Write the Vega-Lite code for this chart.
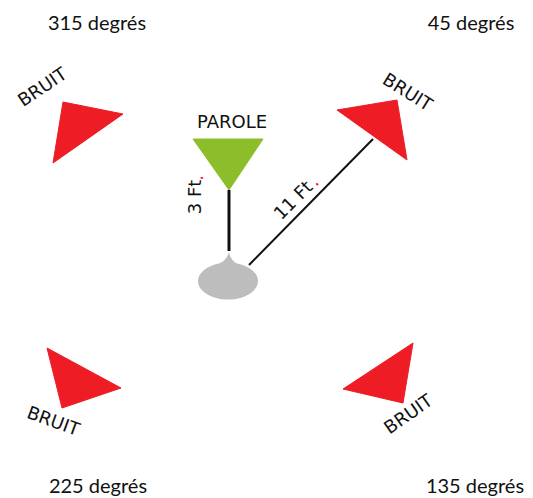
{
  "$schema": "https://vega.github.io/schema/vega-lite/v6.json",
  "width": 533,
  "height": 498,
  "padding": 0,
  "autosize": {"type": "none"},
  "background": "white",
  "config": {"view": {"stroke": null}},
  "datasets": {
    "triangles": [
      {"id": "nw", "k": 1, "x": 63, "y": 102, "c": "bruit"},
      {"id": "nw", "k": 2, "x": 123, "y": 114, "c": "bruit"},
      {"id": "nw", "k": 3, "x": 53, "y": 163, "c": "bruit"},
      {"id": "ne", "k": 1, "x": 337, "y": 110, "c": "bruit"},
      {"id": "ne", "k": 2, "x": 397, "y": 100, "c": "bruit"},
      {"id": "ne", "k": 3, "x": 407, "y": 160, "c": "bruit"},
      {"id": "sw", "k": 1, "x": 47, "y": 348, "c": "bruit"},
      {"id": "sw", "k": 2, "x": 121, "y": 388, "c": "bruit"},
      {"id": "sw", "k": 3, "x": 62, "y": 408, "c": "bruit"},
      {"id": "se", "k": 1, "x": 413, "y": 343, "c": "bruit"},
      {"id": "se", "k": 2, "x": 343, "y": 389, "c": "bruit"},
      {"id": "se", "k": 3, "x": 403, "y": 403, "c": "bruit"},
      {"id": "pa", "k": 1, "x": 193, "y": 139, "c": "parole"},
      {"id": "pa", "k": 2, "x": 263, "y": 139, "c": "parole"},
      {"id": "pa", "k": 3, "x": 229, "y": 190, "c": "parole"}
    ],
    "lines": [
      {"x": 229, "y": 190, "x2": 229, "y2": 251, "w": 3},
      {"x": 249, "y": 265, "x2": 373, "y2": 139, "w": 2}
    ],
    "head": [{"x": 228, "y": 276}],
    "labels": [
      {"t": "315 degrés", "x": 97, "y": 24, "a": 0, "f": "deg"},
      {"t": "45 degrés", "x": 471, "y": 24, "a": 0, "f": "deg"},
      {"t": "225 degrés", "x": 98, "y": 487, "a": 0, "f": "deg"},
      {"t": "135 degrés", "x": 475, "y": 487, "a": 0, "f": "deg"},
      {"t": "BRUIT", "x": 43, "y": 88, "a": -34, "f": "lab"},
      {"t": "BRUIT", "x": 407, "y": 93, "a": 32, "f": "lab"},
      {"t": "BRUIT", "x": 53, "y": 422, "a": 20, "f": "lab"},
      {"t": "BRUIT", "x": 409, "y": 415, "a": -35, "f": "lab"},
      {"t": "PAROLE", "x": 232, "y": 123, "a": 0, "f": "lab"},
      {"t": "3 Ft", "x": 196, "y": 197, "a": -90, "f": "lab"},
      {"t": "11 Ft", "x": 294, "y": 201, "a": -45, "f": "lab"}
    ],
    "dots": [
      {"t": ".", "x": 203, "y": 178, "a": -90},
      {"t": ".", "x": 318, "y": 185, "a": -45}
    ]
  },
  "layer": [
    {
      "data": {"name": "triangles"},
      "mark": {"type": "line", "fill": "#ee1c25", "stroke": "#ee1c25", "strokeWidth": 1, "interpolate": "linear-closed"},
      "transform": [{"filter": "datum.c == 'bruit'"}],
      "encoding": {
        "x": {"field": "x", "type": "quantitative", "scale": {"domain": [0, 533], "nice": false, "zero": false}, "axis": null},
        "y": {"field": "y", "type": "quantitative", "scale": {"domain": [0, 498], "nice": false, "zero": false, "reverse": true}, "axis": null},
        "detail": {"field": "id"},
        "order": {"field": "k"}
      }
    },
    {
      "data": {"name": "triangles"},
      "mark": {"type": "line", "fill": "#8cbd2a", "stroke": "#8cbd2a", "strokeWidth": 1, "interpolate": "linear-closed"},
      "transform": [{"filter": "datum.c == 'parole'"}],
      "encoding": {
        "x": {"field": "x", "type": "quantitative"},
        "y": {"field": "y", "type": "quantitative"},
        "detail": {"field": "id"},
        "order": {"field": "k"}
      }
    },
    {
      "data": {"name": "lines"},
      "mark": {"type": "rule", "color": "#111111"},
      "encoding": {
        "x": {"field": "x", "type": "quantitative"},
        "y": {"field": "y", "type": "quantitative"},
        "x2": {"field": "x2"},
        "y2": {"field": "y2"},
        "strokeWidth": {"field": "w", "type": "quantitative", "scale": null}
      }
    },
    {
      "data": {"name": "head"},
      "mark": {
        "type": "point",
        "filled": true,
        "color": "#bdbdbd",
        "opacity": 1,
        "size": 3600,
        "shape": "M1,0.167 A1,0.617 0 0 1 -1,0.167 A1,0.617 0 0 1 -0.3,-0.42 Q-0.05,-0.5 0.03,-0.8 Q0.1,-0.5 0.3,-0.42 A1,0.617 0 0 1 1,0.167 Z"
      },
      "encoding": {
        "x": {"field": "x", "type": "quantitative"},
        "y": {"field": "y", "type": "quantitative"}
      }
    },
    {
      "data": {"name": "labels"},
      "transform": [{"filter": "datum.f == 'deg'"}],
      "mark": {"type": "text", "font": "Lato", "fontSize": 20, "color": "#111111", "baseline": "middle", "align": "center"},
      "encoding": {
        "x": {"field": "x", "type": "quantitative"},
        "y": {"field": "y", "type": "quantitative"},
        "text": {"field": "t"},
        "angle": {"field": "a", "type": "quantitative", "scale": null}
      }
    },
    {
      "data": {"name": "labels"},
      "transform": [{"filter": "datum.f == 'lab'"}],
      "mark": {"type": "text", "font": "DejaVu Sans", "fontSize": 18, "color": "#111111", "baseline": "middle", "align": "center"},
      "encoding": {
        "x": {"field": "x", "type": "quantitative"},
        "y": {"field": "y", "type": "quantitative"},
        "text": {"field": "t"},
        "angle": {"field": "a", "type": "quantitative", "scale": null}
      }
    },
    {
      "data": {"name": "dots"},
      "mark": {"type": "text", "font": "DejaVu Sans", "fontSize": 18, "color": "#e8141e", "baseline": "alphabetic", "align": "center"},
      "encoding": {
        "x": {"field": "x", "type": "quantitative"},
        "y": {"field": "y", "type": "quantitative"},
        "text": {"field": "t"},
        "angle": {"field": "a", "type": "quantitative", "scale": null}
      }
    }
  ]
}
